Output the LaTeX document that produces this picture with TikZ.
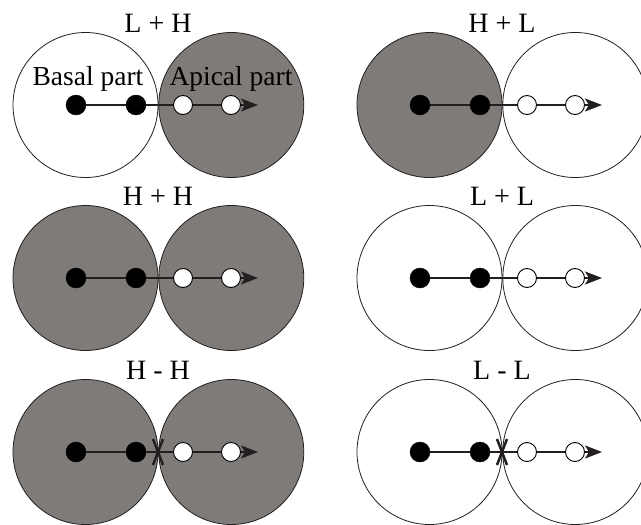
\documentclass[tikz,border=0pt]{standalone}
\usepackage{fontspec}
\setmainfont{Liberation Serif}
\usetikzlibrary{arrows.meta, positioning}
\definecolor{hgray}{RGB}{127,123,120}
\definecolor{ink}{RGB}{35,31,32}

\begin{document}
\begin{tikzpicture}[
    x=1pt, y=-1pt,
    >={Stealth[length=17pt, width=13pt, inset=4pt]},
    part/.style={
        draw=ink,
        line width=0.8pt,
        circle,
        minimum size=145pt,
        inner sep=0pt
    },
    low/.style={part, fill=white},
    high/.style={part, fill=hgray},
    bdot/.style={
        circle,
        draw=black,
        fill=black,
        minimum size=20pt,
        inner sep=0pt
    },
    wdot/.style={
        circle,
        draw=black,
        line width=0.9pt,
        fill=white,
        minimum size=19pt,
        inner sep=0pt
    },
    growth/.style={->, line width=2pt, draw=ink},
    xmark/.style={line width=2.5pt, draw=ink},
    heading/.style={font=\fontsize{28}{30}\selectfont, anchor=base},
    partname/.style={font=\fontsize{27.5}{30}\selectfont, anchor=base, inner sep=0pt}
]
\useasboundingbox (0,0) rectangle (641,525);

% L + H
\begin{scope}[shift={(158,105)}]
\node[low] (LH-l) at (-72.5,0) {};
\node[high, right=0pt of LH-l] (LH-r) {};
\node[heading] (LH-h) at (0,-73) {L + H};
\node[partname] (LH-bp) at (-70,-20) {Basal part};
\node[partname] (LH-ap) at (73,-20) {Apical part};
\coordinate (LH-s) at (-82,0);
\coordinate (LH-t) at (100,0);
\draw[growth] (LH-s) -- (LH-t);
\node[bdot] (LH-1) at (-82,0) {};
\node[bdot] (LH-2) at (-22,0) {};
\node[wdot] (LH-3) at (25,0) {};
\node[wdot] (LH-4) at (73,0) {};
\end{scope}

% H + L
\begin{scope}[shift={(502,105)}]
\node[high] (HL-l) at (-72.5,0) {};
\node[low, right=0pt of HL-l] (HL-r) {};
\node[heading] (HL-h) at (0,-73) {H + L};
\coordinate (HL-s) at (-82,0);
\coordinate (HL-t) at (100,0);
\draw[growth] (HL-s) -- (HL-t);
\node[bdot] (HL-1) at (-82,0) {};
\node[bdot] (HL-2) at (-22,0) {};
\node[wdot] (HL-3) at (25,0) {};
\node[wdot] (HL-4) at (73,0) {};
\end{scope}

% H + H
\begin{scope}[shift={(158,278)}]
\node[high] (HH-l) at (-72.5,0) {};
\node[high, right=0pt of HH-l] (HH-r) {};
\node[heading] (HH-h) at (0,-73) {H + H};
\coordinate (HH-s) at (-82,0);
\coordinate (HH-t) at (100,0);
\draw[growth] (HH-s) -- (HH-t);
\node[bdot] (HH-1) at (-82,0) {};
\node[bdot] (HH-2) at (-22,0) {};
\node[wdot] (HH-3) at (25,0) {};
\node[wdot] (HH-4) at (73,0) {};
\end{scope}

% L + L
\begin{scope}[shift={(502,278)}]
\node[low] (LL-l) at (-72.5,0) {};
\node[low, right=0pt of LL-l] (LL-r) {};
\node[heading] (LL-h) at (0,-73) {L + L};
\coordinate (LL-s) at (-82,0);
\coordinate (LL-t) at (100,0);
\draw[growth] (LL-s) -- (LL-t);
\node[bdot] (LL-1) at (-82,0) {};
\node[bdot] (LL-2) at (-22,0) {};
\node[wdot] (LL-3) at (25,0) {};
\node[wdot] (LL-4) at (73,0) {};
\end{scope}

% H - H
\begin{scope}[shift={(158,452)}]
\node[high] (HX-l) at (-72.5,0) {};
\node[high, right=0pt of HX-l] (HX-r) {};
\node[heading] (HX-h) at (0,-73) {H - H};
\coordinate (HX-s) at (-82,0);
\coordinate (HX-t) at (100,0);
\draw[growth] (HX-s) -- (HX-t);
\node[bdot] (HX-1) at (-82,0) {};
\node[bdot] (HX-2) at (-22,0) {};
\node[wdot] (HX-3) at (25,0) {};
\node[wdot] (HX-4) at (73,0) {};
\draw[xmark] (-5,-13) -- (5,13);
\draw[xmark] (5,-13) -- (-5,13);
\end{scope}

% L - L
\begin{scope}[shift={(502,452)}]
\node[low] (LX-l) at (-72.5,0) {};
\node[low, right=0pt of LX-l] (LX-r) {};
\node[heading] (LX-h) at (0,-73) {L - L};
\coordinate (LX-s) at (-82,0);
\coordinate (LX-t) at (100,0);
\draw[growth] (LX-s) -- (LX-t);
\node[bdot] (LX-1) at (-82,0) {};
\node[bdot] (LX-2) at (-22,0) {};
\node[wdot] (LX-3) at (25,0) {};
\node[wdot] (LX-4) at (73,0) {};
\draw[xmark] (-5,-13) -- (5,13);
\draw[xmark] (5,-13) -- (-5,13);
\end{scope}

\end{tikzpicture}
\end{document}
